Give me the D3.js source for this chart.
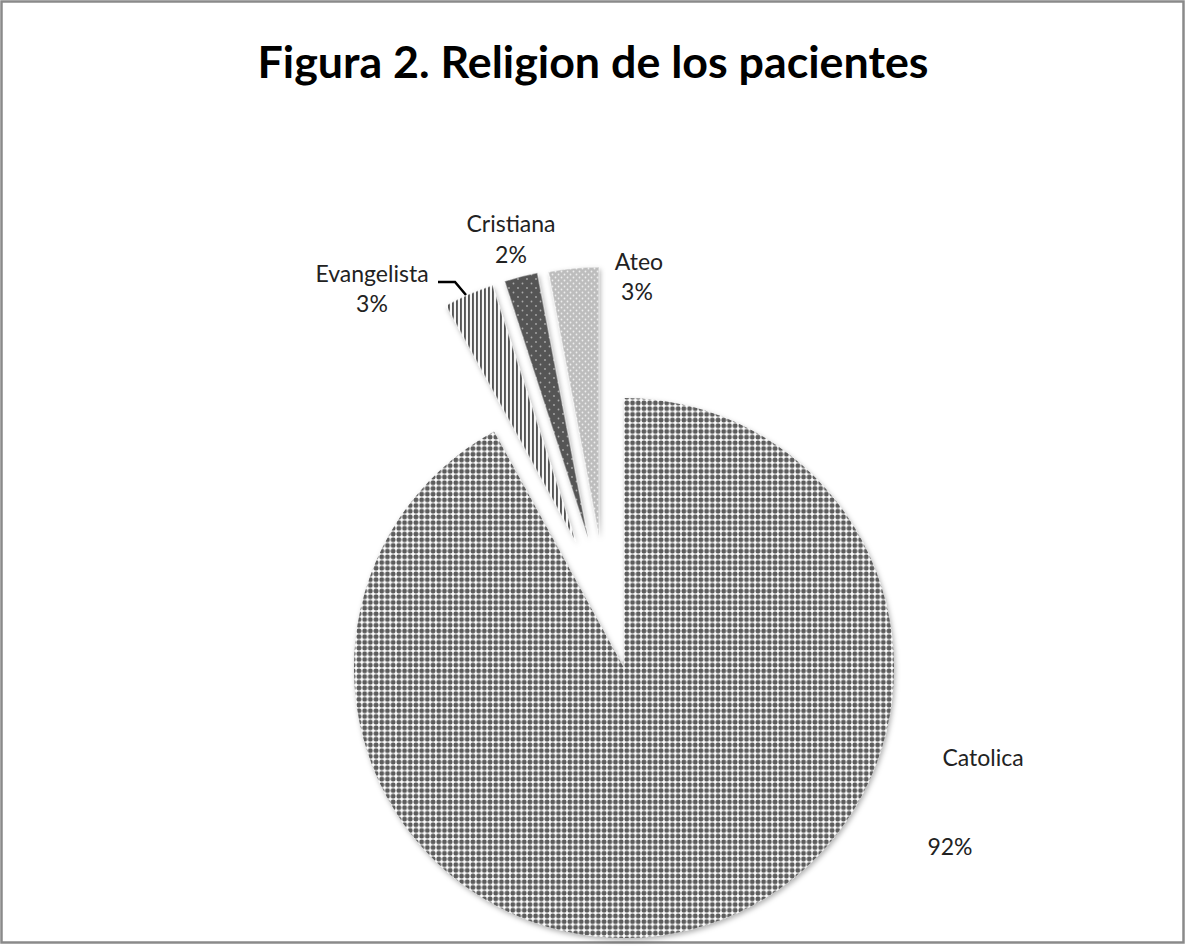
<!DOCTYPE html>
<html>
<head>
<meta charset="utf-8">
<script src="https://cdn.jsdelivr.net/npm/d3@7"></script>
<style>
  html, body { margin: 0; padding: 0; background: #fff; }
  svg { display: block; }
</style>
</head>
<body>
<script>
// Religion of the patients (share of total, %)
const categories = ["Catolica", "Evangelista", "Cristiana", "Ateo"];
const values = [92, 3, 2, 3];
const valueLabels = ["92%", "3%", "2%", "3%"];
const chartTitle = "Figura 2. Religion de los pacientes";

const W = 1185, H = 946;
const cx = 624, cy = 668, R = 270;

// pulled-out slices: shift of each wedge away from the centre
const explodeShift = {
  Catolica: [0, 0],
  Evangelista: [-48, -126],
  Cristiana: [-36, -130],
  Ateo: [-25, -131]
};

// label anchors (centre x, baseline of first line) and line gap
const labelPos = {
  Catolica: { x: 983, y: 766, gap: 89, dx2: -33 },
  Evangelista: { x: 372, y: 282, gap: 30, dx2: 0 },
  Cristiana: { x: 511, y: 232, gap: 31, dx2: 0 },
  Ateo: { x: 639, y: 270, gap: 30, dx2: -2 }
};

const svg = d3.select("body").append("svg")
  .attr("width", W).attr("height", H);

const defs = svg.append("defs");

// dotted grid fill
const pDots = defs.append("pattern").attr("id", "fill-catolica")
  .attr("patternUnits", "userSpaceOnUse").attr("width", 5.7).attr("height", 5.7);
pDots.append("rect").attr("width", 5.7).attr("height", 5.7).attr("fill", "#fff");
pDots.append("rect").attr("x", 0.5).attr("y", 0.5).attr("width", 4.7).attr("height", 4.7)
  .attr("rx", 1.8).attr("fill", "#5c5c5c");

// vertical stripes
const pStripe = defs.append("pattern").attr("id", "fill-evangelista")
  .attr("patternUnits", "userSpaceOnUse").attr("width", 4).attr("height", 4);
pStripe.append("rect").attr("width", 4).attr("height", 4).attr("fill", "#f6f6f6");
pStripe.append("rect").attr("x", 0).attr("width", 1.9).attr("height", 4).attr("fill", "#555");

// dark with sparse light dots
const pDark = defs.append("pattern").attr("id", "fill-cristiana")
  .attr("patternUnits", "userSpaceOnUse").attr("width", 9).attr("height", 9);
pDark.append("rect").attr("width", 9).attr("height", 9).attr("fill", "#555");
pDark.append("circle").attr("cx", 2).attr("cy", 2).attr("r", 0.9).attr("fill", "#aaa");
pDark.append("circle").attr("cx", 6.5).attr("cy", 6.5).attr("r", 0.9).attr("fill", "#aaa");

// light grey with white dots
const pLight = defs.append("pattern").attr("id", "fill-ateo")
  .attr("patternUnits", "userSpaceOnUse").attr("width", 6).attr("height", 6);
pLight.append("rect").attr("width", 6).attr("height", 6).attr("fill", "#bdbdbd");
pLight.append("circle").attr("cx", 1.5).attr("cy", 1.5).attr("r", 0.9).attr("fill", "#eee");
pLight.append("circle").attr("cx", 4.5).attr("cy", 4.5).attr("r", 0.9).attr("fill", "#eee");

// soft shadow under each wedge
const shadow = defs.append("filter").attr("id", "shade")
  .attr("x", "-20%").attr("y", "-20%").attr("width", "140%").attr("height", "140%");
shadow.append("feDropShadow").attr("dx", 1.5).attr("dy", 2.5)
  .attr("stdDeviation", 2.5).attr("flood-color", "#000").attr("flood-opacity", 0.3);

// frame
svg.append("rect").attr("x", 1.5).attr("y", 1.5).attr("width", W - 3).attr("height", H - 5)
  .attr("fill", "#fff").attr("stroke", "#8a8a8a").attr("stroke-width", 2.5);

// title
svg.append("text")
  .attr("x", 593).attr("y", 78)
  .attr("text-anchor", "middle")
  .attr("font-family", "Lato, 'Open Sans', sans-serif")
  .attr("font-weight", "bold")
  .attr("font-size", 44)
  .attr("textLength", 671)
  .attr("lengthAdjust", "spacingAndGlyphs")
  .attr("fill", "#000")
  .text(chartTitle);

const data = categories.map((c, i) => ({ name: c, value: values[i], label: valueLabels[i] }));

const pie = d3.pie().sort(null).value(d => d.value)
  .startAngle(0).endAngle(2 * Math.PI);
const arc = d3.arc().innerRadius(0).outerRadius(R);

const arcs = pie(data);

const g = svg.append("g").attr("transform", `translate(${cx},${cy})`);

const slice = g.selectAll("g.slice").data(arcs).join("g")
  .attr("class", "slice")
  .attr("transform", d => {
    const s = explodeShift[d.data.name];
    return `translate(${s[0]},${s[1]})`;
  });

slice.append("path")
  .attr("d", arc)
  .attr("fill", d => `url(#fill-${d.data.name.toLowerCase()})`)
  .attr("filter", "url(#shade)");

// light rim on the pulled-out wedges
slice.filter(d => d.data.name !== "Catolica").append("path")
  .attr("d", arc)
  .attr("fill", "none")
  .attr("stroke", "#fff")
  .attr("stroke-opacity", 0.45)
  .attr("stroke-width", 1.5);

// labels
const lab = svg.append("g")
  .attr("font-family", "Lato, 'Open Sans', sans-serif")
  .attr("font-size", 23)
  .attr("fill", "#222")
  .attr("text-anchor", "middle");

arcs.forEach(d => {
  const p = labelPos[d.data.name];
  lab.append("text").attr("x", p.x).attr("y", p.y).text(d.data.name);
  lab.append("text").attr("x", p.x + p.dx2).attr("y", p.y + p.gap).text(d.data.label);
});

// leader line for the Evangelista label
svg.append("path")
  .attr("d", d3.line()([[438, 282], [455, 282], [466, 295]]))
  .attr("fill", "none").attr("stroke", "#000").attr("stroke-width", 2.5);
</script>
</body>
</html>
